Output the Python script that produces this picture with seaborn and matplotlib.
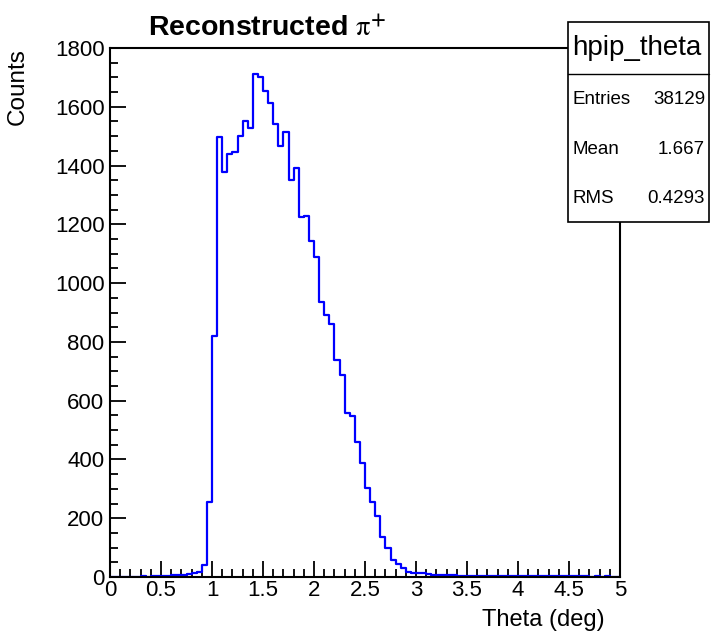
import numpy as np
import pandas as pd
import matplotlib
matplotlib.use("Agg")
import matplotlib.pyplot as plt
import seaborn as sns
from matplotlib.patches import Rectangle
from matplotlib.lines import Line2D
from matplotlib.ticker import MultipleLocator

# ---- data (bin width 0.05 from 0 to 5) ----
bin_edges = [round(0.05 * i, 3) for i in range(101)]
counts = [
    0, 0, 1, 0, 1, 1, 2, 1, 2, 3,            # 0.00-0.50
    3, 4, 6, 8, 8, 9, 15, 17, 42, 255,       # 0.50-1.00
    820, 1497, 1378, 1440, 1447, 1500, 1550, 1527, 1712, 1702,   # 1.00-1.50
    1655, 1612, 1540, 1466, 1515, 1351, 1391, 1226, 1230, 1143,  # 1.50-2.00
    1088, 935, 891, 861, 738, 688, 557, 548, 458, 387,           # 2.00-2.50
    302, 254, 208, 137, 100, 58, 45, 31, 17, 15,                 # 2.50-3.00
    14, 12, 10, 8, 7, 7, 6, 6, 5, 5,                             # 3.00-3.50
    5, 4, 4, 4, 5, 4, 3, 3, 4, 3,                                # 3.50-4.00
    3, 4, 3, 2, 3, 2, 3, 2, 2, 2,                                # 4.00-4.50
    2, 3, 2, 2, 1, 2, 1, 2, 1, 1,                                # 4.50-5.00
]
title_text = "Reconstructed"
stat_name = "hpip_theta"
stat_labels = ["Entries", "Mean", "RMS"]
stat_values = ["38129", "1.667", "0.4293"]
x_label = "Theta (deg)"
y_label = "Counts"

centers = [(a + b) / 2 for a, b in zip(bin_edges[:-1], bin_edges[1:])]
df = pd.DataFrame({"theta": centers, "n": counts})

sns.set_style("white")
plt.rcParams["font.family"] = ["Liberation Sans", "DejaVu Sans"]
plt.rcParams["mathtext.fontset"] = "stix"
for k in ["text.color", "axes.labelcolor", "xtick.color", "ytick.color", "axes.edgecolor"]:
    plt.rcParams[k] = "black"

W, H = 711, 634
fig = plt.figure(figsize=(W / 100, H / 100), dpi=100)
L, R, B, T = 110, 620, 577, 48
ax = fig.add_axes([L / W, 1 - B / H, (R - L) / W, (B - T) / H])

sns.histplot(data=df, x="theta", weights="n", bins=bin_edges, element="step",
             fill=False, color="#0000ff", linewidth=1.6, ax=ax)

ax.set_xlim(0, 5)
ax.set_ylim(0, 1800)
ax.set_xlabel("")
ax.set_ylabel("")
ax.xaxis.set_major_locator(MultipleLocator(0.5))
ax.xaxis.set_minor_locator(MultipleLocator(0.1))
ax.yaxis.set_major_locator(MultipleLocator(200))
ax.yaxis.set_minor_locator(MultipleLocator(50))
ax.xaxis.set_major_formatter(matplotlib.ticker.FuncFormatter(lambda v, p: f"{v:g}"))
ax.tick_params(which="both", direction="in", top=False, right=False,
               bottom=True, left=True, color="black", width=1.3, labelcolor="black")
ax.tick_params(which="major", length=11.5, labelsize=16)
ax.tick_params(axis="x", which="major", pad=2)
ax.tick_params(axis="y", which="major", pad=4)
ax.tick_params(which="minor", length=5.8)
for s in ax.spines.values():
    s.set_color("black")
    s.set_linewidth(1.5)
    s.set_visible(True)
ax.grid(False)

# axis titles
fig.text(605 / W, 1 - 620 / H, x_label, ha="right", va="center", fontsize=17)
fig.text(18 / W, 1 - 48 / H, y_label, ha="center", va="top", rotation=90, fontsize=17.5)

# title
fig.text(148 / W, 1 - 36 / H, title_text + r" $\mathrm{\pi}^{\mathbf{+}}$",
         ha="left", va="baseline", fontsize=20.5, fontweight="bold")

# stats box
bx0, bx1, by0, by1 = 568, 709, 22, 222
fig.patches.append(Rectangle((bx0 / W, 1 - by1 / H), (bx1 - bx0) / W, (by1 - by0) / H,
                             transform=fig.transFigure, facecolor="white",
                             edgecolor="black", linewidth=1.2, zorder=5))
fig.lines.append(Line2D([bx0 / W, bx1 / W], [1 - 74 / H, 1 - 74 / H],
                        transform=fig.transFigure, color="black", linewidth=1.0, zorder=6))
fig.text(572 / W, 1 - 48 / H, stat_name, ha="left", va="center", fontsize=20, zorder=7)
for i, (lab, val) in enumerate(zip(stat_labels, stat_values)):
    yy = 1 - (100 + 49 * i) / H
    fig.text(573 / W, yy, lab, ha="left", va="center", fontsize=13.5, zorder=7)
    fig.text(705 / W, yy, val, ha="right", va="center", fontsize=13.5, zorder=7)

fig.savefig("out.png", dpi=100, facecolor="white")
